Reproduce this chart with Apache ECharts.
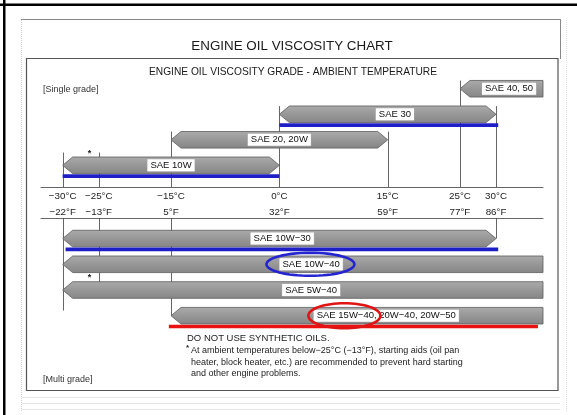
<!DOCTYPE html>
<html>
<head>
<meta charset="utf-8">
<title>Engine oil viscosity chart</title>
<script src="https://cdn.jsdelivr.net/npm/echarts@6.0.0/dist/echarts.min.js"></script>
<style>
  html, body { margin: 0; padding: 0; background: #fff; }
  #chart { width: 577px; height: 415px; }
</style>
</head>
<body>
<div id="chart"></div>
<script>
// temperature scale (°C) with the matching °F labels
const tempTicks = [-30, -25, -15, 0, 15, 25, 30];
const tickC = ['−30°C', '−25°C', '−15°C', '0°C', '15°C', '25°C', '30°C'];
const tickF = ['−22°F', '−13°F', '5°F', '32°F', '59°F', '77°F', '86°F'];
const tempMin = -33;
const tempMax = 36.5; // open ended grades run to the edge

// single grade oils
const singleGrades = ['SAE 40, 50', 'SAE 30', 'SAE 20, 20W', 'SAE 10W'];
const singleFrom = [25, 0, -15, -30];
const singleTo = [tempMax, 30, 15, 0];
const singleLabelAt = [31.8, 16, 0, -15];

// multi grade oils
const multiGrades = ['SAE 10W−30', 'SAE 10W−40', 'SAE 5W−40', 'SAE 15W−40, 20W−40, 20W−50'];
const multiFrom = [-30, -30, -30, -15];
const multiTo = [30, tempMax, tempMax, tempMax];
const multiLabelAt = [0.4, 4.4, 4.4, 14.8];

// thin guide lines at each tick, as row spans (top part ends on the axis)
const topGuideFrom = [3.0, 3.0, 2.18, 1.18, 2.18, 0.18, 1.18];
const bottomGuideTo = [3.6, 2.6, 3.8, null, null, null, 0.8];

// hand drawn marks on the scan
const blueLineRow = [1, 3];
const blueLineFrom = [0, -30];
const blueLineTo = [30.3, 0];
const blueMultiFrom = [-29.6];
const blueMultiTo = [30.3];
const redLineFrom = [-15.3];
const redLineTo = [35.8];
const blueCircleAt = [4.3];
const redCircleAt = [9.0];

// footnote asterisks (temperature, row)
const starTop = [[-26.3, 3.02]];
const starBottom = [[-26.3, 2.33]];

const FONT = '"Liberation Sans", Arial, sans-serif';

const barFill = new echarts.graphic.LinearGradient(0, 0, 0, 1, [
  { offset: 0, color: '#ababab' },
  { offset: 0.5, color: '#979797' },
  { offset: 1, color: '#868686' }
]);

function renderBar(names) {
  return function (params, api) {
    const yc = api.coord([0, api.value(2)])[1];
    const x0 = api.coord([api.value(0), 0])[0];
    const x1 = api.coord([api.value(1), 0])[0];
    const xl = api.coord([api.value(3), 0])[0];
    const h = 8.3, tip = 10;
    const pts = [[x0, yc], [x0 + tip, yc - h]];
    if (api.value(1) >= tempMax) {
      pts.push([x1, yc - h], [x1, yc + h]);
    } else {
      pts.push([x1 - tip, yc - h], [x1, yc], [x1 - tip, yc + h]);
    }
    pts.push([x0 + tip, yc + h]);
    return {
      type: 'group',
      children: [
        { type: 'polygon', shape: { points: pts }, style: { fill: barFill, stroke: '#5c5c5c', lineWidth: 0.8 } },
        {
          type: 'text',
          style: {
            text: names[params.dataIndex], x: xl, y: yc,
            align: 'center', verticalAlign: 'middle', textAlign: 'center', textVerticalAlign: 'middle',
            font: '9.5px ' + FONT, fill: '#111',
            backgroundColor: '#fff', padding: [1.5, 3, 0.5, 3], borderColor: '#aaa', borderWidth: 0.5
          }
        }
      ]
    };
  };
}

function renderGuide(params, api) {
  const p0 = api.coord([api.value(0), api.value(1)]);
  const p1 = api.coord([api.value(0), api.value(2)]);
  return {
    type: 'line',
    shape: { x1: Math.round(p0[0]) + 0.5, y1: p0[1], x2: Math.round(p0[0]) + 0.5, y2: p1[1] },
    style: { stroke: '#555', lineWidth: 0.9 }
  };
}

function renderUnderline(color) {
  return function (params, api) {
    const a = api.coord([api.value(0), api.value(2)]);
    const b = api.coord([api.value(1), api.value(2)]);
    return { type: 'rect', shape: { x: a[0], y: a[1] + 9, width: b[0] - a[0], height: 3.6 }, style: { fill: color } };
  };
}

function ellipsePoints(cx, cy, rx, ry) {
  const pts = [];
  for (let i = 0; i < 64; i++) {
    const t = (i / 64) * Math.PI * 2;
    pts.push([cx + rx * Math.cos(t), cy + ry * Math.sin(t)]);
  }
  return pts;
}

function renderRing(color, rx, ry) {
  return function (params, api) {
    const c = api.coord([api.value(0), api.value(1)]);
    return {
      type: 'polygon', z2: 50,
      shape: { points: ellipsePoints(c[0], c[1], rx, ry) },
      style: { fill: 'none', stroke: color, lineWidth: 2.6 }
    };
  };
}

function renderStar(params, api) {
  const c = api.coord([api.value(0), api.value(1)]);
  return {
    type: 'text',
    style: { text: '*', x: c[0], y: c[1], align: 'center', verticalAlign: 'middle', textAlign: 'center', textVerticalAlign: 'middle', font: 'bold 9px ' + FONT, fill: '#222' }
  };
}

const chart = echarts.init(document.getElementById('chart'), null, { renderer: 'canvas' });

const axisCommon = {
  type: 'value', min: tempMin, max: tempMax,
  axisLine: { onZero: false, lineStyle: { color: '#666', width: 1 } },
  axisTick: { show: false },
  splitLine: { show: false }
};

chart.setOption({
  animation: false,
  backgroundColor: '#fff',
  textStyle: { fontFamily: FONT },
  grid: [
    { left: 41, right: 34, top: 76, height: 111 },
    { left: 41, right: 34, top: 218, height: 108 }
  ],
  xAxis: [
    Object.assign({}, axisCommon, {
      gridIndex: 0, position: 'bottom',
      axisLabel: {
        customValues: tempTicks,
        formatter: v => {
          const i = tempTicks.indexOf(v);
          return i < 0 ? '' : tickC[i] + '\n' + tickF[i];
        },
        color: '#222', fontSize: 9.8, lineHeight: 16.5, margin: 1, fontFamily: FONT
      }
    }),
    Object.assign({}, axisCommon, { gridIndex: 1, position: 'top', axisLabel: { show: false } })
  ],
  yAxis: [
    { gridIndex: 0, type: 'value', inverse: true, min: 0, max: 4.35, show: false },
    { gridIndex: 1, type: 'value', inverse: true, min: 0, max: 4.2, show: false }
  ],
  graphic: [
    // scan frame
    { type: 'rect', shape: { x: 0, y: 3.5, width: 577, height: 2.5 }, style: { fill: '#000' } },
    { type: 'rect', shape: { x: 3, y: 0, width: 2.5, height: 415 }, style: { fill: '#000' } },
    { type: 'line', shape: { x1: 21, y1: 19.5, x2: 561, y2: 19.5 }, style: { stroke: '#888', lineWidth: 1 } },
    { type: 'line', shape: { x1: 560.5, y1: 19.5, x2: 560.5, y2: 59 }, style: { stroke: '#888', lineWidth: 1 } },
    { type: 'line', shape: { x1: 21.5, y1: 20, x2: 21.5, y2: 412 }, style: { stroke: '#d0d0d0', lineWidth: 1, lineDash: [1, 1] } },
    { type: 'line', shape: { x1: 566.5, y1: 20, x2: 566.5, y2: 412 }, style: { stroke: '#dcdcdc', lineWidth: 1, lineDash: [1, 1] } },
    { type: 'line', shape: { x1: 22, y1: 397.5, x2: 560, y2: 397.5 }, style: { stroke: '#e4e4e4', lineWidth: 1 } },
    { type: 'line', shape: { x1: 22, y1: 403.5, x2: 560, y2: 403.5 }, style: { stroke: '#e4e4e4', lineWidth: 1 } },
    { type: 'line', shape: { x1: 22, y1: 409.5, x2: 560, y2: 409.5 }, style: { stroke: '#e4e4e4', lineWidth: 1 } },
    { type: 'rect', shape: { x: 26.5, y: 58.5, width: 531.5, height: 332 }, style: { fill: 'none', stroke: '#555', lineWidth: 1.2 } },
    // texts
    { type: 'text', style: { text: 'ENGINE OIL VISCOSITY CHART', x: 292, y: 46, align: 'center', verticalAlign: 'middle', textAlign: 'center', textVerticalAlign: 'middle', font: '13.4px ' + FONT, fill: '#1a1a1a' } },
    { type: 'text', style: { text: 'ENGINE OIL VISCOSITY GRADE - AMBIENT TEMPERATURE', x: 293, y: 72, align: 'center', verticalAlign: 'middle', textAlign: 'center', textVerticalAlign: 'middle', font: '10.2px ' + FONT, fill: '#1a1a1a' } },
    { type: 'text', style: { text: '[Single grade]', x: 43, y: 90, verticalAlign: 'middle', textVerticalAlign: 'middle', font: '9px ' + FONT, fill: '#333' } },
    { type: 'text', style: { text: '[Multi grade]', x: 43, y: 380, verticalAlign: 'middle', textVerticalAlign: 'middle', font: '9px ' + FONT, fill: '#333' } },
    { type: 'text', style: { text: 'DO NOT USE SYNTHETIC OILS.', x: 187, y: 338, verticalAlign: 'middle', textVerticalAlign: 'middle', font: '9.5px ' + FONT, fill: '#222' } },
    { type: 'text', style: { text: '*', x: 186, y: 348, verticalAlign: 'middle', textVerticalAlign: 'middle', font: 'bold 8px ' + FONT, fill: '#222' } },
    {
      type: 'text',
      style: {
        text: 'At ambient temperatures below−25°C (−13°F), starting aids (oil pan\nheater, block heater, etc.) are recommended to prevent hard starting\nand other engine problems.',
        x: 191, y: 345, verticalAlign: 'top', textVerticalAlign: 'top', font: '9px ' + FONT, lineHeight: 11.5, fill: '#222'
      }
    }
  ],
  series: [
    {
      type: 'custom', name: 'guides top', xAxisIndex: 0, yAxisIndex: 0, z: 1, silent: true,
      renderItem: renderGuide,
      data: tempTicks.map((t, i) => [t, topGuideFrom[i], 4.35])
    },
    {
      type: 'custom', name: 'guides bottom', xAxisIndex: 1, yAxisIndex: 1, z: 1, silent: true,
      renderItem: renderGuide,
      data: tempTicks.map((t, i) => [t, 0, bottomGuideTo[i]]).filter(d => d[2] != null)
    },
    {
      type: 'custom', name: 'single grade', xAxisIndex: 0, yAxisIndex: 0, z: 3, silent: true,
      renderItem: renderBar(singleGrades),
      data: singleGrades.map((g, i) => [singleFrom[i], singleTo[i], i + 0.5, singleLabelAt[i]])
    },
    {
      type: 'custom', name: 'multi grade', xAxisIndex: 1, yAxisIndex: 1, z: 3, silent: true,
      renderItem: renderBar(multiGrades),
      data: multiGrades.map((g, i) => [multiFrom[i], multiTo[i], i + 0.8, multiLabelAt[i]])
    },
    {
      type: 'custom', name: 'blue single', xAxisIndex: 0, yAxisIndex: 0, z: 4, silent: true,
      renderItem: renderUnderline('#1f1fc8'),
      data: blueLineRow.map((r, i) => [blueLineFrom[i], blueLineTo[i], r + 0.5])
    },
    {
      type: 'custom', name: 'blue multi', xAxisIndex: 1, yAxisIndex: 1, z: 4, silent: true,
      renderItem: renderUnderline('#1f1fc8'),
      data: blueMultiFrom.map((f, i) => [f, blueMultiTo[i], 0.8])
    },
    {
      type: 'custom', name: 'red multi', xAxisIndex: 1, yAxisIndex: 1, z: 4, silent: true,
      renderItem: renderUnderline('#e81212'),
      data: redLineFrom.map((f, i) => [f, redLineTo[i], 3.8])
    },
    {
      type: 'custom', name: 'blue ring', xAxisIndex: 1, yAxisIndex: 1, z: 5, silent: true,
      renderItem: renderRing('#2424d0', 44, 11.5),
      data: blueCircleAt.map(t => [t, 1.8])
    },
    {
      type: 'custom', name: 'red ring', xAxisIndex: 1, yAxisIndex: 1, z: 5, silent: true,
      renderItem: renderRing('#e01414', 36, 12.5),
      data: redCircleAt.map(t => [t, 3.8])
    },
    {
      type: 'custom', name: 'stars top', xAxisIndex: 0, yAxisIndex: 0, z: 5, silent: true,
      renderItem: renderStar, data: starTop
    },
    {
      type: 'custom', name: 'stars bottom', xAxisIndex: 1, yAxisIndex: 1, z: 5, silent: true,
      renderItem: renderStar, data: starBottom
    }
  ]
});
</script>
</body>
</html>
